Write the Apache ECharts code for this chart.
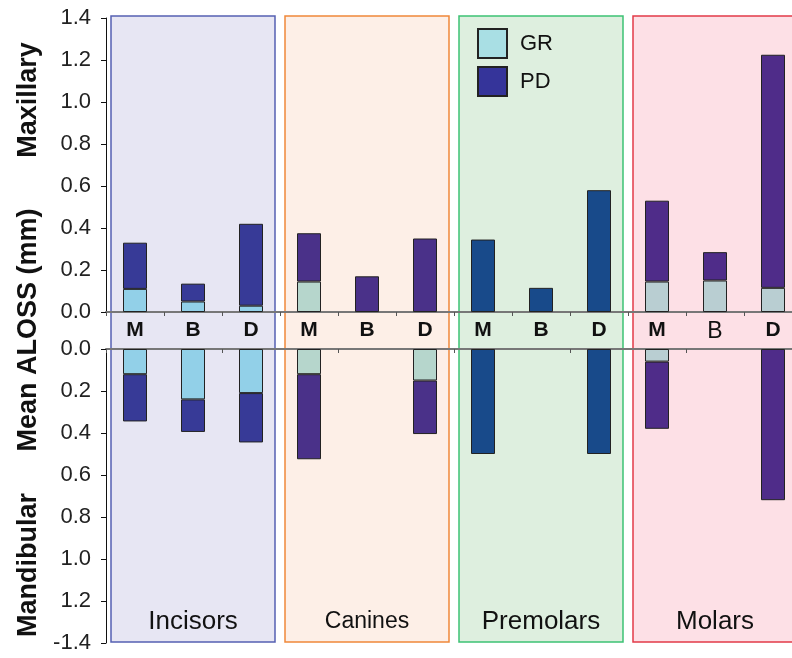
<!DOCTYPE html>
<html>
<head>
<meta charset="utf-8">
<script src="https://cdn.jsdelivr.net/npm/echarts@6/dist/echarts.min.js"></script>
<style>
  html, body { margin: 0; padding: 0; background: #fff; }
  #chart { width: 792px; height: 658px; }
</style>
</head>
<body>
<div id="chart"></div>
<script>
// tooth groups and sites
var toothTypes = ['Incisors', 'Canines', 'Premolars', 'Molars'];
var sites = ['M', 'B', 'D'];
// maxillary (upper) values, mm
var grUpper = [0.11, 0.05, 0.03, 0.145, 0, 0, 0, 0, 0, 0.145, 0.15, 0.115];
var pdUpper = [0.22, 0.085, 0.39, 0.23, 0.17, 0.35, 0.345, 0.115, 0.58, 0.385, 0.135, 1.11];
// mandibular (lower) values, mm
var grLower = [0.12, 0.24, 0.21, 0.12, 0, 0.15, 0, 0, 0, 0.06, 0, 0];
var pdLower = [0.225, 0.155, 0.235, 0.405, 0, 0.255, 0.5, 0, 0.5, 0.32, 0, 0.72];
var yTicks = [0, 0.2, 0.4, 0.6, 0.8, 1.0, 1.2, 1.4];

// colours per tooth group
var grColors = ['#92d0e8', '#b6d6cc', '#a9dee4', '#b9ced2'];
var pdColors = ['#373a97', '#4a3189', '#184a8a', '#4f2c89'];
var panelFill = ['#e7e6f3', '#fdefe7', '#deefdf', '#fde0e6'];
var panelLine = ['#5560b2', '#f0883a', '#3cc274', '#e23a48'];
var panelTitleSize = [26, 23, 26, 26];

var font = 'Liberation Sans, Arial, Helvetica, sans-serif';

var categories = [];
toothTypes.forEach(function (t) {
    sites.forEach(function (s) { categories.push(t + '|' + s); });
});

function buildData(values, colors) {
    return values.map(function (v, i) {
        if (!v) return null;
        return { value: v, itemStyle: { color: colors[Math.floor(i / 3)] } };
    });
}

var myChart = echarts.init(document.getElementById('chart'));

var option = {
    animation: false,
    legend: {
        data: ['GR', 'PD'],
        orient: 'vertical',
        left: 472,
        top: 23,
        icon: 'rect',
        itemWidth: 29,
        itemHeight: 29,
        itemGap: 7,
        textStyle: { fontSize: 22, fontFamily: font, color: '#111', padding: [0, 0, 0, 8] }
    },
    grid: [
        { left: 106, top: 18, width: 696, height: 294, outerBoundsMode: 'none' },
        { left: 106, top: 349, width: 696, height: 294, outerBoundsMode: 'none' }
    ],
    xAxis: [
        {
            type: 'category', gridIndex: 0, data: categories, position: 'bottom',
            axisLine: { lineStyle: { color: '#777', width: 2 } },
            axisTick: { show: true, length: 4, lineStyle: { color: '#555' } },
            axisLabel: {
                margin: 8,
                formatter: function (v) {
                    var p = v.split('|');
                    return (p[0] === 'Molars' && p[1] === 'B') ? '{n|' + p[1] + '}' : '{b|' + p[1] + '}';
                },
                rich: {
                    b: { fontSize: 21, fontWeight: 'bold', fontFamily: font, color: '#111' },
                    n: { fontSize: 23, fontWeight: 'normal', fontFamily: font, color: '#111' }
                }
            }
        },
        {
            type: 'category', gridIndex: 1, data: categories, position: 'top',
            axisLine: { lineStyle: { color: '#777', width: 2 } },
            axisTick: { show: true, inside: true, length: 4, lineStyle: { color: '#555' } },
            axisLabel: { show: false }
        }
    ],
    yAxis: [
        {
            type: 'value', gridIndex: 0, min: 0, max: 1.4, interval: 0.2,
            axisLine: { show: true, lineStyle: { color: '#111' } },
            axisTick: { show: true, length: 5, lineStyle: { color: '#111' } },
            splitLine: { show: false },
            axisLabel: {
                fontSize: 22, fontFamily: font, color: '#222', margin: 15,
                formatter: function (v) { return v.toFixed(1); }
            }
        },
        {
            type: 'value', gridIndex: 1, min: 0, max: 1.4, interval: 0.2, inverse: true,
            axisLine: { show: true, lineStyle: { color: '#111' } },
            axisTick: { show: true, length: 5, lineStyle: { color: '#111' } },
            splitLine: { show: false },
            axisLabel: {
                fontSize: 22, fontFamily: font, color: '#222', margin: 15,
                formatter: function (v) {
                    return Math.abs(v - yTicks[yTicks.length - 1]) < 1e-6 ? '-' + v.toFixed(1) : v.toFixed(1);
                }
            }
        }
    ],
    series: [
        {
            name: 'GR', type: 'bar', stack: 'upper', xAxisIndex: 0, yAxisIndex: 0, barWidth: 24,
            itemStyle: { color: '#a9dfe4', borderColor: '#222', borderWidth: 1 },
            data: buildData(grUpper, grColors)
        },
        {
            name: 'PD', type: 'bar', stack: 'upper', xAxisIndex: 0, yAxisIndex: 0, barWidth: 24,
            itemStyle: { color: '#35349a', borderColor: '#222', borderWidth: 1 },
            data: buildData(pdUpper, pdColors)
        },
        {
            name: 'GR', type: 'bar', stack: 'lower', xAxisIndex: 1, yAxisIndex: 1, barWidth: 24,
            itemStyle: { color: '#a9dfe4', borderColor: '#222', borderWidth: 1 },
            data: buildData(grLower, grColors)
        },
        {
            name: 'PD', type: 'bar', stack: 'lower', xAxisIndex: 1, yAxisIndex: 1, barWidth: 24,
            itemStyle: { color: '#35349a', borderColor: '#222', borderWidth: 1 },
            data: buildData(pdLower, pdColors)
        }
    ]
};

myChart.setOption(option);

// group panels behind the bars, placed from the category axis
var graphics = [];
var first = myChart.convertToPixel({ xAxisIndex: 0 }, categories[0]);
var second = myChart.convertToPixel({ xAxisIndex: 0 }, categories[1]);
var band = second - first;
toothTypes.forEach(function (t, g) {
    var cStart = myChart.convertToPixel({ xAxisIndex: 0 }, categories[g * 3]);
    var x0 = cStart - band / 2 + 5;
    var w = band * 3 - 10;
    graphics.push({
        type: 'rect', z: -10,
        shape: { x: x0, y: 16, width: w, height: 626 },
        style: { fill: panelFill[g], stroke: panelLine[g], lineWidth: 1.5 }
    });
    graphics.push({
        type: 'text', z: 10,
        x: x0 + w / 2, y: 622,
        style: {
            text: t, fontSize: panelTitleSize[g], fontFamily: font, fill: '#111',
            align: 'center', verticalAlign: 'middle'
        }
    });
});
// y-axis titles
[['Maxillary', 100], ['Mean ALOSS (mm)', 330], ['Mandibular', 565]].forEach(function (a) {
    graphics.push({
        type: 'text', x: 29, y: a[1], rotation: Math.PI / 2,
        style: {
            text: a[0], fontSize: 27, fontWeight: 'bold', fontFamily: font, fill: '#111',
            align: 'center', verticalAlign: 'middle'
        }
    });
});
myChart.setOption({ graphic: graphics });
</script>
</body>
</html>
